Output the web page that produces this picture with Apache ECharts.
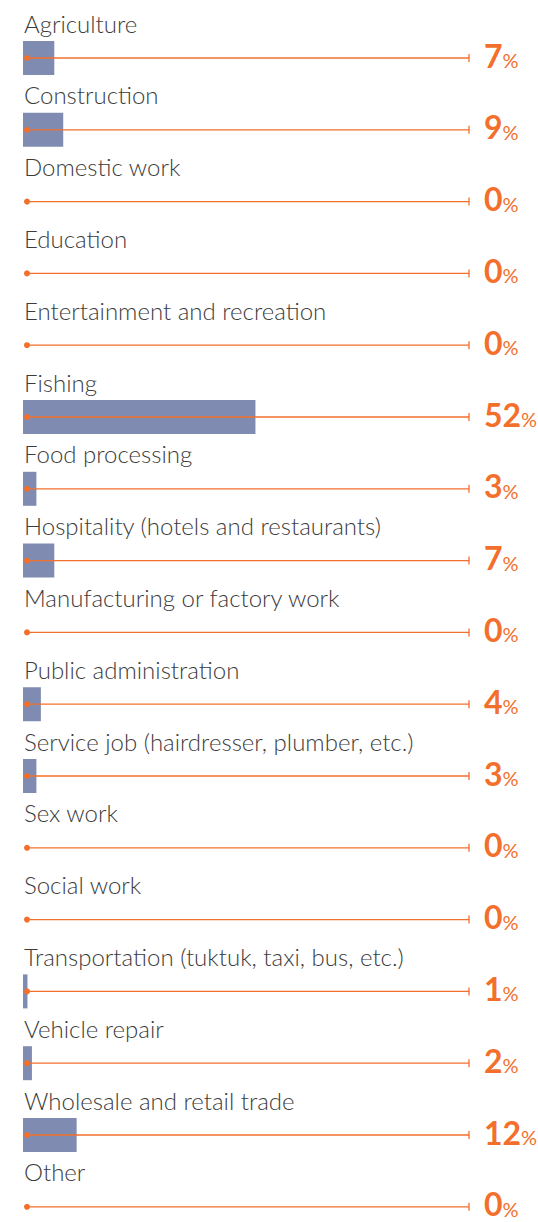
<!DOCTYPE html>
<html>
<head>
<meta charset="utf-8">
<script src="https://cdn.jsdelivr.net/npm/echarts@6/dist/echarts.min.js"></script>
<style>
html,body{margin:0;padding:0;background:#fff;}
#chart{width:538px;height:1222px;}
</style>
</head>
<body>
<div id="chart"></div>
<script>
var categories = [
  "Agriculture","Construction","Domestic work","Education",
  "Entertainment and recreation","Fishing","Food processing",
  "Hospitality (hotels and restaurants)","Manufacturing or factory work",
  "Public administration","Service job (hairdresser, plumber, etc.)",
  "Sex work","Social work","Transportation (tuktuk, taxi, bus, etc.)",
  "Vehicle repair","Wholesale and retail trade","Other"
];
var values = [7,9,0,0,0,52,3,7,0,4,3,0,0,1,2,12,0];
var trackMax = 100;

var ORANGE = '#f36f2c';
var BAR = '#7f8bb0';

var chart = echarts.init(document.getElementById('chart'), null, {renderer:'svg'});
var band = 71.8;
chart.setOption({
  animation:false,
  grid:{left:23, width:447, top:58, height: band*(categories.length-1)},
  xAxis:{type:'value', min:0, max:100, show:false},
  yAxis:{type:'category', data:categories, inverse:true, show:false, boundaryGap:false},
  series:[
    {
      type:'bar', data:values, barWidth:34, itemStyle:{color:BAR}, z:1, silent:true
    },
    {
      type:'custom', z:2, silent:true,
      data: values.map(function(v,i){return [trackMax, i, v];}),
      encode:{x:0,y:1},
      renderItem:function(params, api){
        var i = api.value(1);
        var start = api.coord([0, i]);
        var end = api.coord([api.value(0), i]);
        var y = start[1];
        var x0 = start[0] + 4;
        var x1 = end[0] - 1;
        return {
          type:'group',
          children:[
            {type:'line', shape:{x1:x0, y1:y, x2:x1, y2:y}, style:{stroke:ORANGE, lineWidth:1.3}},
            {type:'line', shape:{x1:x1, y1:y-4, x2:x1, y2:y+4}, style:{stroke:ORANGE, lineWidth:1.3}},
            {type:'circle', shape:{cx:x0, cy:y, r:3}, style:{fill:ORANGE}},
            {type:'text', x:start[0]+1, y:y-35, style:{
              text:categories[i], fill:'#3c3c3c', font:'300 24px Lato', textAlign:'left', textVerticalAlign:'middle'
            }},
            {type:'text', x:x1+15, y:y, style:{
              text:'{n|'+api.value(2)+'}{p|%}',
              textAlign:'left', textVerticalAlign:'middle',
              rich:{
                n:{fontFamily:'Lato', fontWeight:'bold', fontSize:32, lineHeight:26, fill:ORANGE, verticalAlign:'bottom'},
                p:{fontFamily:'Lato', fontWeight:'normal', fontSize:20, lineHeight:16, fill:ORANGE, verticalAlign:'bottom', padding:[0,0,1,0]}
              }
            }}
          ]
        };
      }
    }
  ]
});
</script>
</body>
</html>
